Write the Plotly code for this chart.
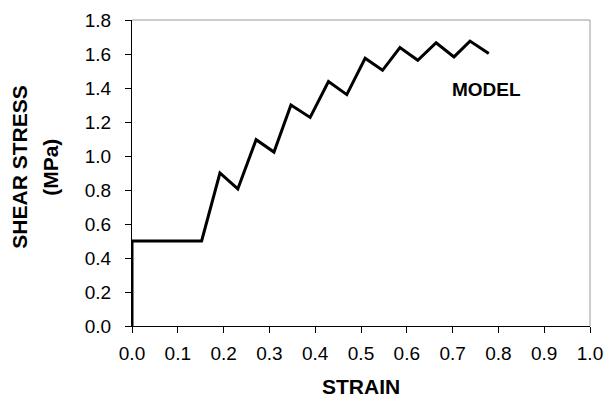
import plotly.graph_objects as go

# Data
strain = [0.0, 0.0, 0.152, 0.192, 0.231, 0.271, 0.310, 0.347, 0.389, 0.429,
          0.469, 0.509, 0.547, 0.585, 0.624, 0.664, 0.703, 0.738, 0.779]
shear_stress = [0.0, 0.5, 0.5, 0.90, 0.806, 1.096, 1.023, 1.30, 1.227, 1.438,
                1.361, 1.575, 1.504, 1.638, 1.563, 1.666, 1.583, 1.676, 1.603]

x_ticks = [0.0, 0.1, 0.2, 0.3, 0.4, 0.5, 0.6, 0.7, 0.8, 0.9, 1.0]
y_ticks = [0.0, 0.2, 0.4, 0.6, 0.8, 1.0, 1.2, 1.4, 1.6, 1.8]

FONT = "Liberation Sans, Arial, sans-serif"

fig = go.Figure()
fig.add_trace(go.Scatter(
    x=strain, y=shear_stress, mode="lines",
    line=dict(color="black", width=3), cliponaxis=False,
    showlegend=False, hoverinfo="skip",
))

fig.update_layout(
    width=606, height=401,
    margin=dict(l=132, r=16, t=20, b=75, pad=0),
    paper_bgcolor="white", plot_bgcolor="white",
    font=dict(family=FONT, color="black", size=19),
    xaxis=dict(
        range=[0, 1], tickvals=x_ticks, tickformat=".1f",
        showgrid=False, zeroline=False, automargin=False,
        showline=True, linecolor="black", linewidth=1,
        ticks="outside", ticklen=6, tickcolor="black", tickwidth=1,
        tickfont=dict(size=19, family=FONT), ticklabelstandoff=4,
    ),
    yaxis=dict(
        range=[0, 1.8], tickvals=y_ticks, tickformat=".1f",
        showgrid=False, zeroline=False, automargin=False,
        showline=True, linecolor="black", linewidth=1,
        ticks="outside", ticklen=6, tickcolor="black", tickwidth=1,
        tickfont=dict(size=19, family=FONT), ticklabelstandoff=10,
    ),
    shapes=[
        dict(type="line", xref="paper", yref="paper", x0=0, x1=1, y0=1, y1=1,
             line=dict(color="#9a9a9a", width=1)),
        dict(type="line", xref="paper", yref="paper", x0=1, x1=1, y0=0, y1=1,
             line=dict(color="#9a9a9a", width=1)),
    ],
    annotations=[
        dict(text="<b>STRAIN</b>", xref="paper", yref="paper",
             x=0.5, y=-0.197, xanchor="center", yanchor="middle",
             showarrow=False, font=dict(size=21, family=FONT)),
        dict(text="<b>SHEAR STRESS</b>", xref="paper", yref="paper",
             x=-0.245, y=0.52, xanchor="center", yanchor="middle", textangle=-90,
             showarrow=False, font=dict(size=21, family=FONT)),
        dict(text="<b>(MPa)</b>", xref="paper", yref="paper",
             x=-0.177, y=0.52, xanchor="center", yanchor="middle", textangle=-90,
             showarrow=False, font=dict(size=21, family=FONT)),
        dict(text="<b>MODEL</b>", x=0.775, y=1.39, xanchor="center", yanchor="middle",
             showarrow=False, font=dict(size=19, family=FONT)),
    ],
)

fig.write_html("out.html", config={"displayModeBar": False},
               post_script="document.body.style.margin='0';")
